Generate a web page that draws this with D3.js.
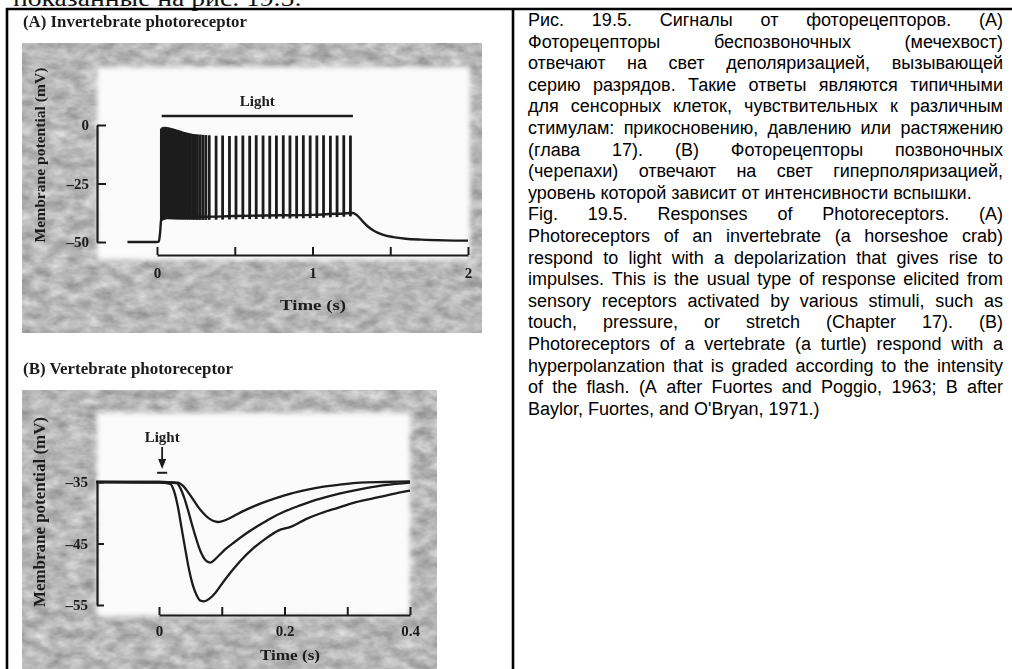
<!DOCTYPE html>
<html><head><meta charset="utf-8">
<script src="https://cdn.jsdelivr.net/npm/d3@7"></script>
<style>html,body{margin:0;padding:0;background:#fff;overflow:hidden}</style>
</head><body>
<script>
// ---------- DATA ----------
// Panel A: invertebrate photoreceptor (time s, membrane potential mV)
const baseTimeA = [-0.19, 0.0, 0.012, 0.02, 0.028, 0.06, 0.15, 0.3, 0.5, 0.8, 1.0, 1.2, 1.26, 1.29, 1.32, 1.36, 1.40, 1.45, 1.52, 1.6, 1.7, 1.85, 2.0];
const baseVoltA = [-50, -50, -49.8, -46, -39.5, -38.8, -39.0, -39.2, -38.9, -38.6, -38.4, -37.8, -37.6, -38.8, -41.0, -43.6, -45.4, -46.8, -47.9, -48.6, -49.0, -49.3, -49.4];
const spikeTimesA = [0.028,0.036,0.044,0.052,0.060,0.068,0.076,0.085,0.094,0.103,0.112,0.122,0.132,0.142,0.153,0.164,0.176,0.188,0.201,0.215,0.229,0.244,0.260,0.277,0.295,0.314,
  0.336,0.380,0.422,0.466,0.508,0.552,0.596,0.638,0.682,0.725,0.768,0.812,0.855,0.898,0.941,0.985,1.028,1.071,1.115,1.158,1.201,1.244];
const spikePeaksA = [-1.5,-1.0,-0.8,-0.8,-0.9,-1.0,-1.1,-1.2,-1.4,-1.5,-1.7,-1.9,-2.1,-2.3,-2.5,-2.8,-3.0,-3.2,-3.4,-3.6,-3.8,-3.9,-4.0,-4.1,-4.2,-4.3,
  -4.4,-4.6,-4.5,-4.7,-4.6,-4.5,-4.6,-4.4,-4.5,-4.6,-4.5,-4.4,-4.5,-4.6,-4.4,-4.5,-4.5,-4.4,-4.6,-4.5,-4.4,-4.5];
const lightA = [0.03, 1.26];
const yTicksA = [0, -25, -50];
const xTicksA = [0, 0.5, 1, 1.5, 2];
const xTickLabelsA = ["0", "", "1", "", "2"];

// Panel B: vertebrate photoreceptor, three flash intensities
const trace1T = [-0.1, 0.0, 0.03, 0.038, 0.046, 0.054, 0.062, 0.07, 0.078, 0.086, 0.094, 0.1, 0.108, 0.12, 0.135, 0.15, 0.17, 0.19, 0.21, 0.235, 0.26, 0.29, 0.32, 0.36, 0.4];
const trace1V = [-35, -35, -35.1, -35.6, -36.6, -37.8, -39, -40, -40.8, -41.3, -41.5, -41.4, -41.1, -40.5, -39.7, -39.0, -38.2, -37.5, -36.9, -36.3, -35.8, -35.4, -35.1, -35, -34.9];
const trace2T = [-0.1, 0.0, 0.028, 0.034, 0.04, 0.046, 0.052, 0.058, 0.064, 0.07, 0.076, 0.082, 0.088, 0.095, 0.105, 0.12, 0.14, 0.16, 0.18, 0.2, 0.225, 0.25, 0.275, 0.3, 0.33, 0.36, 0.4];
const trace2V = [-35, -35, -35.2, -36, -37.5, -39.5, -41.7, -43.8, -45.7, -47.1, -47.9, -48.1, -47.7, -47, -46, -44.8, -43.3, -42, -40.8, -39.8, -38.8, -37.9, -37.2, -36.6, -36, -35.5, -35.1];
const trace3T = [-0.1, 0.0, 0.018, 0.024, 0.03, 0.036, 0.042, 0.048, 0.054, 0.06, 0.066, 0.072, 0.08, 0.09, 0.1, 0.115, 0.13, 0.15, 0.17, 0.19, 0.21, 0.235, 0.26, 0.285, 0.31, 0.34, 0.37, 0.4];
const trace3V = [-35, -35.1, -35.3, -36.5, -39, -42.5, -46, -49.3, -51.8, -53.4, -54.3, -54.4, -54, -53, -51.6, -49.6, -47.8, -45.8, -44.2, -42.9, -42.3, -41.0, -40.0, -39.2, -38.4, -37.7, -37.0, -36.4];
const lightB = 0.005;
const yTicksB = [-35, -45, -55];
const xTicksB = [0, 0.1, 0.2, 0.3, 0.4];
const xTickLabelsB = ["0", "", "0.2", "", "0.4"];

// Caption text
const captionLines = [
  "Рис. 19.5. Сигналы от фоторецепторов. (A)",
  "Фоторецепторы беспозвоночных (мечехвост)",
  "отвечают на свет деполяризацией, вызывающей",
  "серию разрядов. Такие ответы являются типичными",
  "для сенсорных клеток, чувствительных к различным",
  "стимулам: прикосновению, давлению или растяжению",
  "(глава 17). (B) Фоторецепторы позвоночных",
  "(черепахи) отвечают на свет гиперполяризацией,",
  "уровень которой зависит от интенсивности вспышки.",
  "Fig. 19.5. Responses of Photoreceptors. (A)",
  "Photoreceptors of an invertebrate (a horseshoe crab)",
  "respond to light with a depolarization that gives rise to",
  "impulses. This is the usual type of response elicited from",
  "sensory receptors activated by various stimuli, such as",
  "touch, pressure, or stretch (Chapter 17). (B)",
  "Photoreceptors of a vertebrate (a turtle) respond with a",
  "hyperpolanzation that is graded according to the intensity",
  "of the flash. (A after Fuortes and Poggio, 1963; B after",
  "Baylor, Fuortes, and O'Bryan, 1971.)"
];
const paragraphEnds = [8, 18];

// ---------- DRAW ----------
const W = 1012, H = 669;
const svg = d3.select("body").append("svg").attr("width", W).attr("height", H);
const defs = svg.append("defs");

const mottle = defs.append("filter").attr("id", "mottle").attr("x", 0).attr("y", 0).attr("width", 1).attr("height", 1)
  .attr("color-interpolation-filters", "sRGB");
mottle.append("feTurbulence").attr("type", "fractalNoise").attr("baseFrequency", "0.06 0.1").attr("numOctaves", 3).attr("seed", 7).attr("result", "n");
mottle.append("feColorMatrix").attr("in", "n").attr("type", "matrix")
  .attr("values", "0.38 0 0 0 0.53  0.38 0 0 0 0.53  0.38 0 0 0 0.53  0 0 0 0 1").attr("result", "g");
mottle.append("feComposite").attr("in", "g").attr("in2", "SourceGraphic").attr("operator", "in");

const soft = defs.append("filter").attr("id", "soft").attr("x", -0.05).attr("y", -0.05).attr("width", 1.1).attr("height", 1.1);
soft.append("feGaussianBlur").attr("stdDeviation", 2.5);

const scan = defs.append("filter").attr("id", "scan");
scan.append("feGaussianBlur").attr("stdDeviation", 0.55);

const serif = "'Liberation Serif', 'Times New Roman', serif";
const sans = "'Liberation Sans', Arial, sans-serif";
const ink = "#1b1b1b";

// cut-off text at top (the page continues above the crop)
svg.append("text").attr("x", 13).attr("y", 6).attr("font-family", serif).attr("font-size", 24)
  .attr("textLength", 289).attr("lengthAdjust", "spacingAndGlyphs").attr("fill", "#111")
  .text("показанные на рис. 19.5:");

// table borders
const border = svg.append("g").attr("stroke", "#000").attr("stroke-width", 2.6);
border.append("line").attr("x1", 6).attr("x2", W).attr("y1", 9).attr("y2", 9);
border.append("line").attr("x1", 7).attr("x2", 7).attr("y1", 8).attr("y2", H);
border.append("line").attr("x1", 513).attr("x2", 513).attr("y1", 8).attr("y2", H);

// ---------- Panel A ----------
const gA = svg.append("g").attr("filter", "url(#scan)");
gA.append("rect").attr("x", 22).attr("y", 43).attr("width", 460).attr("height", 290).attr("fill", "#bbb").attr("filter", "url(#mottle)");
gA.append("rect").attr("x", 97).attr("y", 67).attr("width", 373).attr("height", 193).attr("fill", "#fbfbfb").attr("filter", "url(#soft)");

const xA = d3.scaleLinear().domain([0, 2]).range([157, 468]);
const yA = d3.scaleLinear().domain([-50, 0]).range([242, 125]);

gA.append("text").attr("x", 23).attr("y", 27).attr("font-family", serif).attr("font-weight", "bold")
  .attr("font-size", 16).attr("textLength", 224).attr("lengthAdjust", "spacingAndGlyphs").attr("fill", ink)
  .text("(A) Invertebrate photoreceptor");

const axYA = gA.append("g").attr("transform", "translate(97,0)")
  .call(d3.axisLeft(yA).tickValues(yTicksA).tickSizeInner(-9).tickSizeOuter(0).tickPadding(8)
    .tickFormat(d => d === 0 ? "0" : "–" + Math.abs(d)));
const axXA = gA.append("g").attr("transform", "translate(0,255)")
  .call(d3.axisBottom(xA).tickValues(xTicksA).tickSizeInner(-8).tickSizeOuter(0).tickPadding(12)
    .tickFormat((d, i) => xTickLabelsA[i]));
[axYA, axXA].forEach(ax => {
  ax.select(".domain").attr("stroke", ink).attr("stroke-width", 2.2);
  ax.selectAll(".tick line").attr("stroke", ink).attr("stroke-width", 2);
  ax.selectAll("text").attr("font-family", serif).attr("font-weight", "bold").attr("font-size", 15).attr("fill", ink);
});

// Light bar
gA.append("line").attr("x1", xA(lightA[0])).attr("x2", xA(lightA[1])).attr("y1", 116).attr("y2", 116)
  .attr("stroke", ink).attr("stroke-width", 2.4);
gA.append("text").attr("x", xA((lightA[0] + lightA[1]) / 2)).attr("y", 106).attr("text-anchor", "middle")
  .attr("font-family", serif).attr("font-weight", "bold").attr("font-size", 15).attr("fill", ink).text("Light");

// baseline (generator potential)
const lineA = d3.line().x((d, i) => xA(baseTimeA[i])).y(d => yA(d)).curve(d3.curveMonotoneX);
gA.append("path").attr("d", lineA(baseVoltA)).attr("fill", "none").attr("stroke", ink).attr("stroke-width", 2.4);

// spikes
const baseAt = t => {
  const i = Math.max(1, d3.bisectLeft(baseTimeA, t));
  const t0 = baseTimeA[i - 1], t1 = baseTimeA[i];
  return baseVoltA[i - 1] + (baseVoltA[i] - baseVoltA[i - 1]) * (t - t0) / (t1 - t0);
};
gA.append("g").selectAll("line").data(spikeTimesA).join("line")
  .attr("x1", d => xA(d)).attr("x2", d => xA(d))
  .attr("y1", d => yA(baseAt(d) - 1.4)).attr("y2", (d, i) => yA(spikePeaksA[i]))
  .attr("stroke", ink).attr("stroke-width", 2.8);

gA.append("text").attr("x", 313).attr("y", 310).attr("text-anchor", "middle").attr("font-family", serif)
  .attr("font-weight", "bold").attr("font-size", 15).attr("fill", ink).attr("textLength", 66).attr("lengthAdjust", "spacingAndGlyphs").text("Time (s)");
gA.append("text").attr("transform", "translate(45,155) rotate(-90)").attr("text-anchor", "middle")
  .attr("font-family", serif).attr("font-weight", "bold").attr("font-size", 15).attr("fill", ink)
  .attr("textLength", 175).attr("lengthAdjust", "spacingAndGlyphs").text("Membrane potential (mV)");

// ---------- Panel B ----------
const gB = svg.append("g").attr("filter", "url(#scan)");
gB.append("rect").attr("x", 22).attr("y", 390).attr("width", 415).attr("height", 285).attr("fill", "#bbb").attr("filter", "url(#mottle)");
gB.append("rect").attr("x", 97).attr("y", 413).attr("width", 313).attr("height", 203).attr("fill", "#fbfbfb").attr("filter", "url(#soft)");

gB.append("text").attr("x", 23).attr("y", 374).attr("font-family", serif).attr("font-weight", "bold")
  .attr("font-size", 16).attr("textLength", 210).attr("lengthAdjust", "spacingAndGlyphs").attr("fill", ink)
  .text("(B) Vertebrate photoreceptor");

const xB = d3.scaleLinear().domain([0, 0.4]).range([159, 410]);
const yB = d3.scaleLinear().domain([-55, -35]).range([605, 482]);

const axYB = gB.append("g").attr("transform", "translate(97,0)")
  .call(d3.axisLeft(yB).tickValues(yTicksB).tickSizeInner(-7).tickSizeOuter(0).tickPadding(9)
    .tickFormat(d => "–" + Math.abs(d)));
const axXB = gB.append("g").attr("transform", "translate(0,615)")
  .call(d3.axisBottom(xB).tickValues(xTicksB).tickSizeInner(-8).tickSizeOuter(0).tickPadding(10)
    .tickFormat((d, i) => xTickLabelsB[i]));
[axYB, axXB].forEach(ax => {
  ax.select(".domain").attr("stroke", ink).attr("stroke-width", 2.2);
  ax.selectAll(".tick line").attr("stroke", ink).attr("stroke-width", 2);
  ax.selectAll("text").attr("font-family", serif).attr("font-weight", "bold").attr("font-size", 15).attr("fill", ink);
});

const traces = [[trace1T, trace1V], [trace2T, trace2V], [trace3T, trace3V]];
traces.forEach(([T, V]) => {
  const ln = d3.line().x((d, i) => xB(T[i])).y(d => yB(d)).curve(d3.curveMonotoneX);
  gB.append("path").attr("d", ln(V)).attr("fill", "none").attr("stroke", ink).attr("stroke-width", 2.3);
});

// light arrow
const ax0 = xB(lightB);
gB.append("text").attr("x", ax0).attr("y", 442).attr("text-anchor", "middle").attr("font-family", serif)
  .attr("font-weight", "bold").attr("font-size", 15).attr("fill", ink).text("Light");
gB.append("line").attr("x1", ax0).attr("x2", ax0).attr("y1", 447).attr("y2", 462).attr("stroke", ink).attr("stroke-width", 1.8);
gB.append("path").attr("d", `M${ax0 - 4},459 L${ax0 + 4},459 L${ax0},469 Z`).attr("fill", ink);
gB.append("line").attr("x1", xB(lightB - 0.008)).attr("x2", xB(lightB + 0.008)).attr("y1", yB(-33.5)).attr("y2", yB(-33.5))
  .attr("stroke", ink).attr("stroke-width", 2);

gB.append("text").attr("x", 290).attr("y", 660).attr("text-anchor", "middle").attr("font-family", serif)
  .attr("font-weight", "bold").attr("font-size", 15).attr("fill", ink).attr("textLength", 60).attr("lengthAdjust", "spacingAndGlyphs").text("Time (s)");
gB.append("text").attr("transform", "translate(45,512) rotate(-90)").attr("text-anchor", "middle")
  .attr("font-family", serif).attr("font-weight", "bold").attr("font-size", 16).attr("fill", ink)
  .attr("textLength", 190).attr("lengthAdjust", "spacingAndGlyphs").text("Membrane potential (mV)");

// ---------- Caption (justified) ----------
const capX = 528, capW = 475, capY0 = 26, capDy = 21.6, capFs = 18;
const cap = svg.append("g").attr("font-family", sans).attr("font-size", capFs).attr("fill", "#000");
const meas = cap.append("text").attr("x", -1000).attr("y", -1000);
const wWidth = s => { meas.text(s); return meas.node().getComputedTextLength(); };
const spaceW = wWidth("a a") - wWidth("aa");
captionLines.forEach((line, li) => {
  const y = capY0 + li * capDy;
  const words = line.split(" ");
  const widths = words.map(wWidth);
  const sum = d3.sum(widths);
  const natural = sum + spaceW * (words.length - 1);
  if (natural > capW) {
    cap.append("text").attr("x", capX).attr("y", y).attr("textLength", capW).attr("lengthAdjust", "spacingAndGlyphs").text(line);
    return;
  }
  const gap = paragraphEnds.includes(li) ? spaceW : (capW - sum) / (words.length - 1);
  let x = capX;
  const t = cap.append("text").attr("y", y);
  words.forEach((w, i) => {
    t.append("tspan").attr("x", x).text(w);
    x += widths[i] + gap;
  });
});
meas.remove();
</script>
</body></html>
